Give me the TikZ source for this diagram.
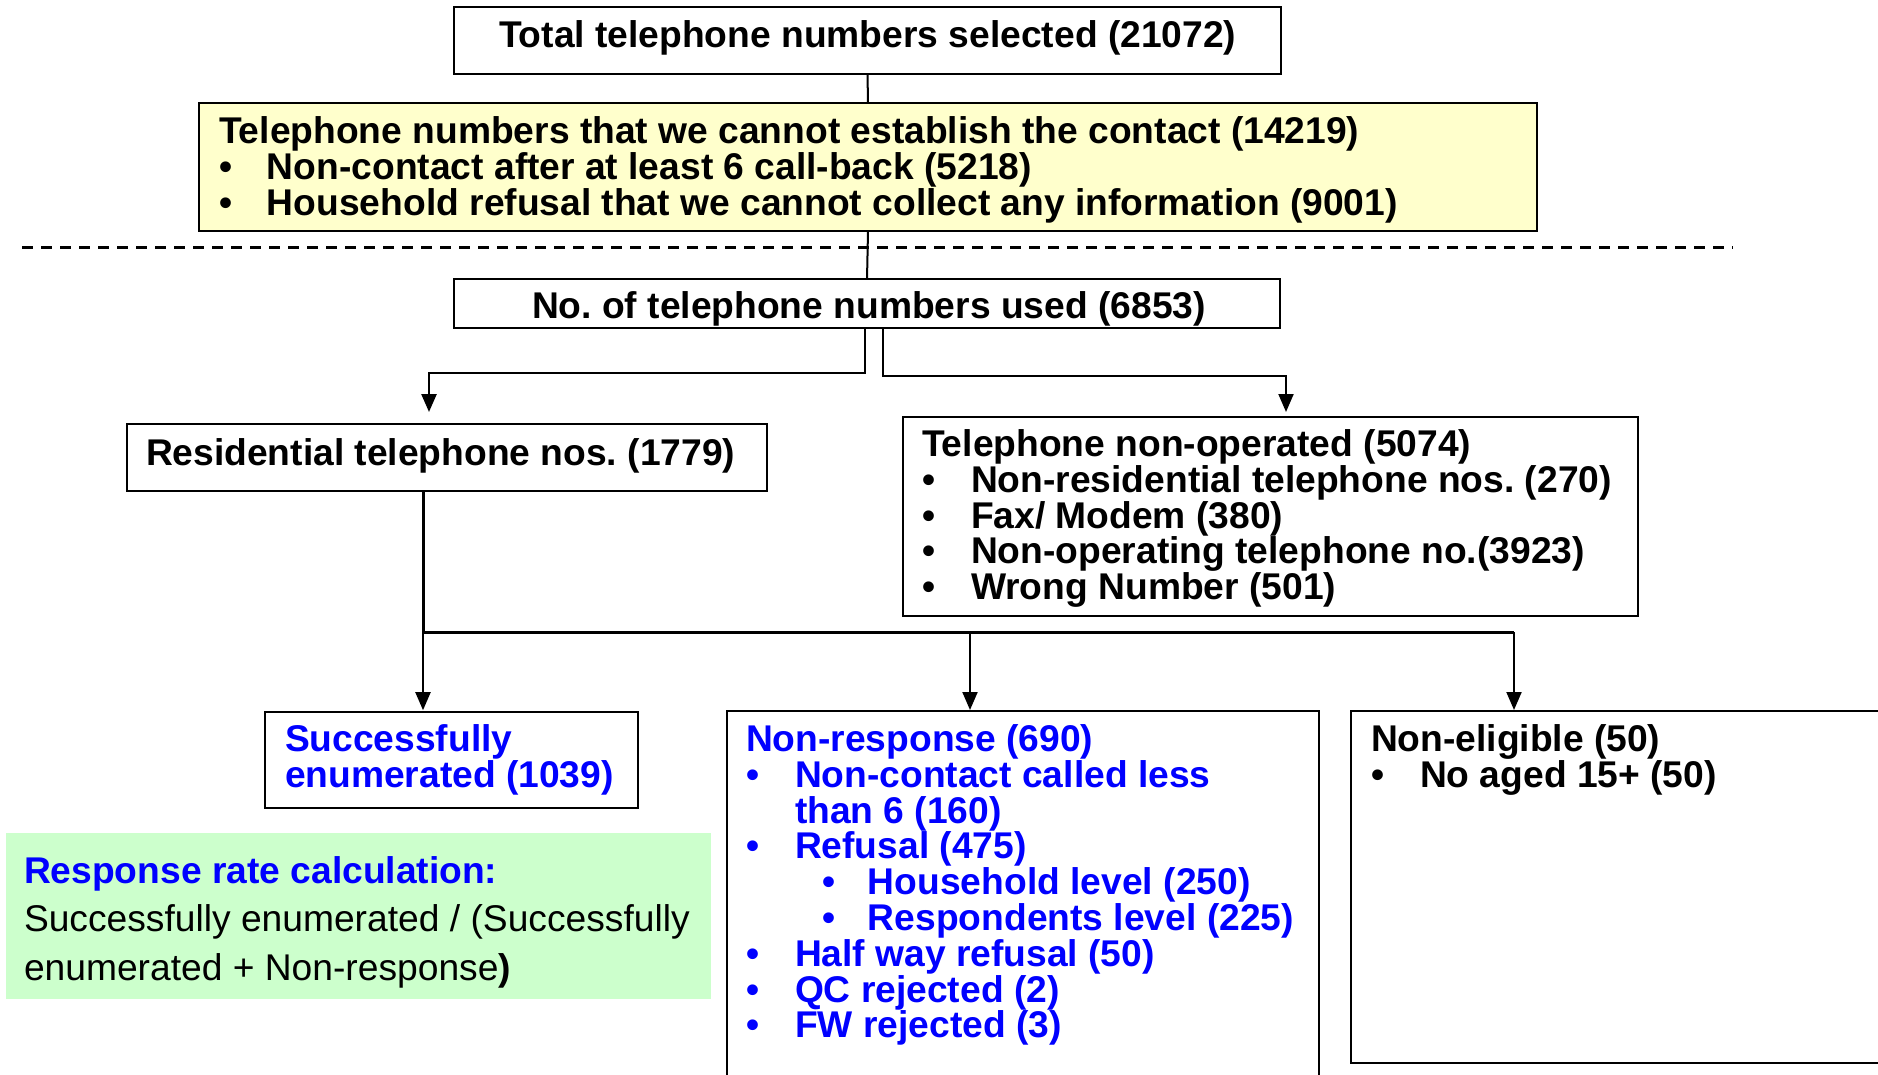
\documentclass[tikz,border=0pt]{standalone}
\usepackage{fontspec}
\setmainfont{Liberation Sans}
\usetikzlibrary{arrows.meta,calc}
\definecolor{lblue}{RGB}{0,0,255}
\definecolor{pyellow}{RGB}{255,255,204}
\definecolor{pgreen}{RGB}{204,255,204}
\newcommand\mybul[1][49pt]{\makebox[#1][l]{•}}
\newcommand\fr{\rule{0pt}{30pt}}
\frenchspacing
\begin{document}
\frenchspacing
\begin{tikzpicture}[x=1pt,y=-1pt,
  box/.style={draw=black,line width=2pt,inner sep=0pt,outer sep=0pt,anchor=north west},
  txt/.style={inner sep=0pt,outer sep=0pt,font=\fontsize{37.2}{35.8}\selectfont\bfseries\frenchspacing,align=left},
  arr/.style={line width=2pt,-{Triangle[width=15pt,length=18pt]}},
  ln/.style={line width=2pt}]
\useasboundingbox (0,0) rectangle (1878,1075);
\clip (0,0) rectangle (1878,1075);
% boxes
\node[box,minimum width=827pt,minimum height=67pt] (b1) at (454,7) {};
\node[box,fill=pyellow,minimum width=1338pt,minimum height=128pt] (b2) at (199,103) {};
\node[box,minimum width=826pt,minimum height=48.4pt] (b3) at (454,279.3) {};
\node[box,minimum width=640pt,minimum height=67pt] (b4) at (127,424) {};
\node[box,minimum width=735pt,minimum height=199pt] (b5) at (903,416.7) {};
\node[box,minimum width=373pt,minimum height=96.6pt] (b6) at (265,711.7) {};
\node[box,minimum width=592pt,minimum height=400pt] (b7) at (727,711) {};
\node[box,minimum width=560pt,minimum height=352.3pt] (b8) at (1351,711) {};
\node[box,draw=none,fill=pgreen,minimum width=705pt,minimum height=166pt] (g) at (6,833.3) {};
% dashed separator
\coordinate (d1) at (22,247.3);
\coordinate (d2) at (1733,247.3);
\draw[line width=3pt,dash pattern=on 11pt off 8pt] (d1) -- (d2);
% connectors
\draw[ln] (b1.south) -- (b2.north);
\draw[ln] (b2.south) -- (b3.north);
\draw[arr,line width=2.5pt] ([xshift=-2pt]b3.south) -- ++(0,45.5) -| ([xshift=-18pt,yshift=12pt]b4.north);
\draw[arr] ([xshift=16pt]b3.south) -- ++(0,48.5) -| ([xshift=15.5pt,yshift=4.7pt]b5.north);
\coordinate (j1) at (423,632);
\coordinate (j2) at (970,632);
\coordinate (j3) at (1514,632);
\draw[line width=3pt] ([xshift=-24pt]b4.south) -- (j1) -- (j3);
\draw[arr] (j1) -- ([yshift=1.5pt]b6.north -| j1);
\draw[arr] (j2) -- ([yshift=1pt]b7.north -| j2);
\draw[arr] (j3) -- ([yshift=1pt]b8.north -| j3);
% texts
\node[txt,anchor=base west] (t1) at (499,48) {Total telephone numbers selected (21072)};
\node[txt,anchor=north west] (t2) at (219,114) {\fr Telephone numbers that we cannot establish the contact (14219)\\
\mybul[48pt]Non-contact after at least 6 call-back (5218)\\
\mybul[48pt]Household refusal that we cannot collect any information (9001)};
\node[txt,anchor=base west] (t3) at (532,318) {No. of telephone numbers used (6853)};
\node[txt,anchor=base west] (t4) at (146,465) {Residential telephone nos. (1779)};
\node[txt,anchor=north west] (t5) at (922,426.5) {\fr Telephone non-operated (5074)\\
\mybul Non-residential telephone nos. (270)\\
\mybul Fax/ Modem (380)\\
\mybul Non-operating telephone no.(3923)\\
\mybul Wrong Number (501)};
\node[txt,anchor=north west,text=lblue] (t6) at (285,721.5) {\fr Successfully\\enumerated (1039)};
\node[txt,anchor=north west,text=lblue] (t7) at (746,721.5) {\fr Non-response (690)\\
\mybul Non-contact called less\\
\hspace*{49pt}than 6 (160)\\
\mybul Refusal (475)\\
\hspace*{76pt}\mybul[46pt]Household level (250)\\
\hspace*{76pt}\mybul[46pt]Respondents level (225)\\
\mybul Half way refusal (50)\\
\mybul QC rejected (2)\\
\mybul FW rejected (3)};
\node[txt,anchor=north west] (t8) at (1371,721.5) {\fr Non-eligible (50)\\
\mybul No aged 15+ (50)};
\node[txt,anchor=north west,font=\fontsize{37.2}{48.5}\selectfont] (t9) at (24,853) {\fr\textcolor{lblue}{\bfseries Response rate calculation:}\\
Successfully enumerated / (Successfully\\
enumerated + Non-response\textbf{)}};
\end{tikzpicture}
\end{document}
